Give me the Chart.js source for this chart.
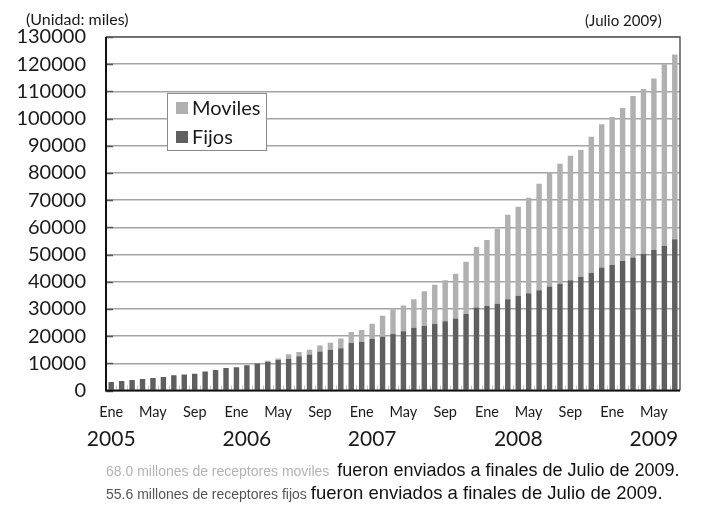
<!DOCTYPE html>
<html><head><meta charset="utf-8">
<script src="https://cdn.jsdelivr.net/npm/chart.js@4/dist/chart.umd.min.js"></script>
<style>
html,body{margin:0;padding:0;background:#fff;}
#wrap{position:relative;width:703px;height:510px;overflow:hidden;}
#c{position:absolute;left:0;top:0;}
.t{position:absolute;white-space:nowrap;}
</style></head><body>
<div id="wrap">
<canvas id="c" width="703" height="510"></canvas>
<div class="t" style="left:26px;top:10px;font:16px/18px Lato;color:#1a1a1a">(Unidad: miles)</div>
<div class="t" style="left:585px;top:11px;font:15px/18px Lato;color:#1a1a1a">(Julio 2009)</div>
<div class="t" style="left:106px;top:460px;line-height:22px;"><span style="font:14px Liberation Sans, Arial;color:#b3b3b3">68.0 millones de receptores moviles</span>&nbsp; <span style="font:18px Liberation Sans, Arial;color:#111">fueron enviados a finales de Julio de 2009.</span></div>
<div class="t" style="left:106px;top:482px;line-height:22px;"><span style="font:14px Liberation Sans, Arial;color:#555">55.6 millones de receptores fijos</span> <span style="font:18.5px Liberation Sans, Arial;color:#111">fueron enviados a finales de Julio de 2009.</span></div>
</div>
<script>
const monthNames = ['Ene','Feb','Mar','Abr','May','Jun','Jul','Ago','Sep','Oct','Nov','Dic'];
const years = [2005, 2006, 2007, 2008, 2009];
const categories = [];
years.forEach(y => monthNames.forEach((m, i) => { if (y < 2009 || i < 7) categories.push(m + ' ' + y); }));

const fijos = [3100,3500,3900,4250,4600,4950,5600,5900,6200,6950,7550,8250,8550,9300,9900,10600,11250,11700,12600,13250,14350,15000,15500,17500,17900,18900,19800,20800,21770,23120,23740,24480,25460,26450,28170,30500,31120,31860,33580,34810,35790,36900,38250,39240,40590,41820,43170,45260,46130,47600,48950,50310,51660,53260,55600];
const moviles = [0,0,0,0,0,0,0,0,0,0,0,0,0,100,200,300,500,1650,1600,1700,2200,2550,3600,4000,4350,5650,7700,8950,9470,10460,12790,14390,15130,16480,19180,22270,24230,27550,31070,32790,35110,39100,42050,44110,45760,46580,50170,52630,54460,56310,59380,60600,63060,66740,68000];

const monthTickLabels = ['Ene','May','Sep'];
const yearTickLabels = ['2005','2006','2007','2008','2009'];
const yearTickCategory = ['Ene 2005','Feb 2006','Feb 2007','Abr 2008','May 2009'];
const yTickMax = 130000, yTickStep = 10000;

const COL_FIJOS = '#5f5f5f', COL_MOV = '#b0b0b0';

const frame = {
  id: 'frame',
  afterDatasetsDraw(chart) {
    const {ctx, chartArea: a, scales} = chart;
    ctx.save();
    ctx.strokeStyle = '#555'; ctx.lineWidth = 1.5;
    scales.y.ticks.forEach(t => {
      const y = Math.round(scales.y.getPixelForValue(t.value)) + 0.5;
      ctx.beginPath(); ctx.moveTo(a.left, y); ctx.lineTo(a.left + 7, y); ctx.stroke();
    });
    ctx.strokeStyle = '#c4c4c4'; ctx.lineWidth = 1;
    const half = (scales.x.getPixelForValue(1) - scales.x.getPixelForValue(0)) / 2;
    for (let i = 1; i < categories.length; i++) {
      const x = Math.round(scales.x.getPixelForValue(i) - half) + 0.5;
      ctx.beginPath(); ctx.moveTo(x, a.bottom - 5); ctx.lineTo(x, a.bottom); ctx.stroke();
    }
    ctx.strokeStyle = '#5a5a5a'; ctx.lineWidth = 1.5;
    ctx.beginPath(); ctx.moveTo(a.left, a.top); ctx.lineTo(a.right, a.top); ctx.lineTo(a.right, a.bottom); ctx.stroke();
    ctx.strokeStyle = '#111'; ctx.lineWidth = 2;
    ctx.beginPath(); ctx.moveTo(a.left, a.top); ctx.lineTo(a.left, a.bottom); ctx.lineTo(a.right, a.bottom); ctx.stroke();
    ctx.restore();
  }
};

const boxLegend = {
  id: 'boxLegend',
  afterDraw(chart) {
    const ctx = chart.ctx;
    ctx.save();
    ctx.fillStyle = '#fff'; ctx.fillRect(167, 93, 100, 58);
    ctx.strokeStyle = '#8c8c8c'; ctx.lineWidth = 1; ctx.strokeRect(167.5, 93.5, 99, 57);
    const items = chart.data.datasets.slice().reverse();
    items.forEach((ds, k) => {
      const y = 108 + k * 29;
      ctx.fillStyle = ds.backgroundColor; ctx.fillRect(176, y - 6, 12, 12);
      ctx.fillStyle = '#1a1a1a'; ctx.font = '20px Lato'; ctx.textBaseline = 'middle'; ctx.textAlign = 'left';
      ctx.fillText(ds.label, 192, y + 1);
    });
    ctx.restore();
  }
};

function draw() {
  new Chart(document.getElementById('c'), {
    type: 'bar',
    data: {
      labels: categories,
      datasets: [
        {label: 'Fijos', data: fijos, backgroundColor: COL_FIJOS, barPercentage: 0.52, categoryPercentage: 1},
        {label: 'Moviles', data: moviles, backgroundColor: COL_MOV, barPercentage: 0.52, categoryPercentage: 1}
      ]
    },
    options: {
      responsive: false, animation: false, devicePixelRatio: 1,
      layout: {padding: {top: 37, right: 23, left: 0, bottom: 0}},
      plugins: {legend: {display: false}, tooltip: {enabled: false}},
      scales: {
        y: {
          stacked: true, min: 0, max: yTickMax,
          ticks: {stepSize: yTickStep, color: '#1a1a1a', font: {family: 'Lato', size: 20}, padding: 20, callback: v => String(v)},
          grid: {color: '#a4a4a4', lineWidth: 1.5, drawTicks: false},
          border: {display: false},
          afterFit: s => { s.width = 106; }
        },
        x: {
          stacked: true, offset: true,
          grid: {display: false, drawTicks: false}, border: {display: false},
          ticks: {
            autoSkip: false, maxRotation: 0, minRotation: 0, padding: 13,
            color: '#1a1a1a', font: {family: 'Lato', size: 14.5},
            callback: function (v) { const m = categories[v].split(' ')[0]; return monthTickLabels.includes(m) ? m : ''; }
          },
          afterFit: s => { s.height = 30; }
        },
        x2: {
          type: 'category', position: 'bottom', offset: true,
          grid: {display: false, drawTicks: false}, border: {display: false},
          ticks: {
            autoSkip: false, maxRotation: 0, minRotation: 0, padding: 6,
            color: '#1a1a1a', font: {family: 'Lato', size: 21},
            callback: function (v) { const k = yearTickCategory.indexOf(categories[v]); return k >= 0 ? yearTickLabels[k] : ''; }
          },
          afterFit: s => { s.height = 89.5; }
        }
      }
    },
    plugins: [frame, boxLegend]
  });
}
Promise.all([document.fonts.load('20px Lato'), document.fonts.load('14px Lato'), document.fonts.load('14px "Liberation Sans"')]).then(draw, draw);
</script>
</body></html>
